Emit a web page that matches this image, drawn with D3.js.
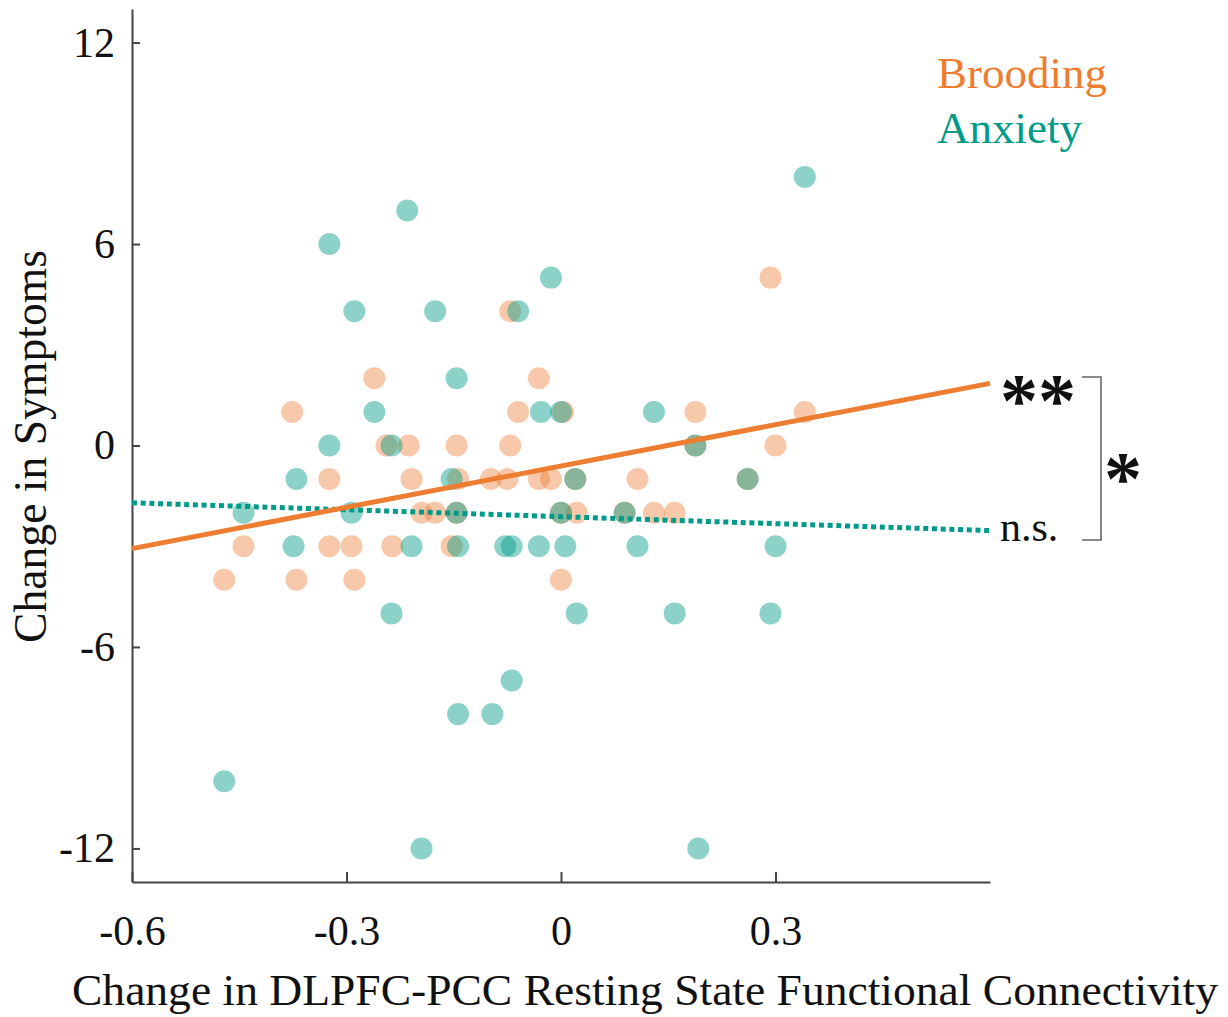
<!DOCTYPE html>
<html>
<head>
<meta charset="utf-8">
<script src="https://cdn.jsdelivr.net/npm/d3@7"></script>
<style>
  body { margin: 0; background: #fff; }
  svg { display: block; }
  text { font-family: "Liberation Serif", "DejaVu Serif", serif; }
</style>
</head>
<body>
<div id="chart"></div>
<script>
// change in DLPFC-PCC connectivity (x) vs change in symptoms (y)
const broodX = [0.293, -0.071, -0.261, -0.031, -0.376, -0.060, 0.003, 0.188, 0.341,
  -0.244, -0.213, -0.146, -0.071, 0.188, 0.300,
  -0.324, -0.209, -0.144, -0.098, -0.075, -0.031, -0.014, 0.020, 0.107, 0.261,
  -0.195, -0.176, -0.146, 0.000, 0.022, 0.089, 0.130, 0.159,
  -0.444, -0.324, -0.293, -0.236, -0.153,
  -0.471, -0.370, -0.289, 0.000];
const broodY = [5, 4, 2, 2, 1, 1, 1, 1, 1,
  0, 0, 0, 0, 0, 0,
  -1, -1, -1, -1, -1, -1, -1, -1, -1, -1,
  -2, -2, -2, -2, -2, -2, -2, -2,
  -3, -3, -3, -3, -3,
  -4, -4, -4, -4];

const anxX = [0.341, -0.215, -0.324, -0.014, -0.289, -0.176, -0.060, -0.146,
  -0.261, -0.028, 0.000, 0.130,
  -0.324, -0.237, 0.188,
  -0.370, -0.153, 0.020, 0.261,
  -0.444, -0.293, -0.146, 0.000, 0.089,
  -0.374, -0.209, -0.144, -0.078, -0.069, -0.031, 0.006, 0.107, 0.300,
  -0.237, 0.022, 0.159, 0.293,
  -0.069, -0.144, -0.096, -0.471, -0.195, 0.192];
const anxY = [8, 7, 6, 5, 4, 4, 4, 2,
  1, 1, 1, 1,
  0, 0, 0,
  -1, -1, -1, -1,
  -2, -2, -2, -2, -2,
  -3, -3, -3, -3, -3, -3, -3, -3, -3,
  -5, -5, -5, -5,
  -7, -8, -8, -10, -12, -12];

// fitted lines: [slope, intercept]
const broodFit = [4.1, -0.61];
const anxFit = [-0.69, -2.12];

const xTicks = [-0.6, -0.3, 0, 0.3];
const xTickLabels = ["-0.6", "-0.3", "0", "0.3"];
const yTicks = [-12, -6, 0, 6, 12];
const yTickLabels = ["-12", "-6", "0", "6", "12"];

const orange = "#ED7D31";
const teal = "#009B88";

const width = 1228;
const height = 1017;

const svg = d3.select("#chart")
  .append("svg")
  .attr("width", width)
  .attr("height", height);

const x = d3.scaleLinear().domain([-0.6, 0.6]).range([132, 990]);
const y = d3.scaleLinear().domain([-13, 13]).range([882, 9]);

// axes
const yAxis = d3.axisLeft(y)
  .tickValues(yTicks)
  .tickFormat((d, i) => yTickLabels[i])
  .tickSizeInner(-8)
  .tickSizeOuter(0)
  .tickPadding(17);

const xAxis = d3.axisBottom(x)
  .tickValues(xTicks)
  .tickFormat((d, i) => xTickLabels[i])
  .tickSizeInner(-10)
  .tickSizeOuter(0);

const gy = svg.append("g")
  .attr("transform", `translate(${x.range()[0]},0)`)
  .call(yAxis);
gy.selectAll("text")
  .attr("font-size", 42)
  .attr("font-family", "Liberation Serif")
  .attr("fill", "#111");

const gx = svg.append("g")
  .attr("transform", `translate(0,${y.range()[0]})`)
  .call(xAxis);
gx.selectAll("text")
  .attr("font-size", 42)
  .attr("font-family", "Liberation Serif")
  .attr("fill", "#111")
  .attr("y", 63)
  .attr("dy", 0);

svg.selectAll(".domain, .tick line")
  .attr("stroke", "#444")
  .attr("stroke-width", 2);

// axis titles
svg.append("text")
  .attr("x", 72)
  .attr("y", 1005)
  .attr("font-size", 44)
  .attr("fill", "#111")
  .attr("textLength", 1146)
  .attr("lengthAdjust", "spacingAndGlyphs")
  .text("Change in DLPFC-PCC Resting State Functional Connectivity");

svg.append("text")
  .attr("transform", "translate(46,643) rotate(-90)")
  .attr("font-size", 46)
  .attr("fill", "#111")
  .attr("textLength", 393)
  .attr("lengthAdjust", "spacingAndGlyphs")
  .text("Change in Symptoms");

// points
const brood = broodX.map((d, i) => ({ x: d, y: broodY[i] }));
const anx = anxX.map((d, i) => ({ x: d, y: anxY[i] }));

svg.append("g")
  .selectAll("circle")
  .data(brood)
  .enter()
  .append("circle")
  .attr("cx", (d) => x(d.x))
  .attr("cy", (d) => y(d.y))
  .attr("r", 11)
  .attr("fill", orange)
  .attr("fill-opacity", 0.42);

svg.append("g")
  .selectAll("circle")
  .data(anx)
  .enter()
  .append("circle")
  .attr("cx", (d) => x(d.x))
  .attr("cy", (d) => y(d.y))
  .attr("r", 11)
  .attr("fill", teal)
  .attr("fill-opacity", 0.45);

// fit lines
const fitLine = (fit) => x.domain().map((v) => [x(v), y(fit[0] * v + fit[1])]);

svg.append("path")
  .attr("d", d3.line()(fitLine(anxFit)))
  .attr("stroke", teal)
  .attr("stroke-width", 5)
  .attr("stroke-dasharray", "5 3.7")
  .attr("fill", "none");

svg.append("path")
  .attr("d", d3.line()(fitLine(broodFit)))
  .attr("stroke", orange)
  .attr("stroke-width", 5)
  .attr("fill", "none");

// legend
svg.append("text")
  .attr("x", 937)
  .attr("y", 88)
  .attr("font-size", 45)
  .attr("fill", orange)
  .text("Brooding");

svg.append("text")
  .attr("x", 937)
  .attr("y", 143)
  .attr("font-size", 45)
  .attr("fill", teal)
  .text("Anxiety");

// significance labels
svg.append("text")
  .attr("x", 1000)
  .attr("y", 426)
  .attr("font-size", 76)
  .attr("font-weight", "bold")
  .attr("fill", "#111")
  .text("**");

svg.append("text")
  .attr("x", 1104)
  .attr("y", 504)
  .attr("font-size", 76)
  .attr("font-weight", "bold")
  .attr("fill", "#111")
  .text("*");

svg.append("text")
  .attr("x", 1000)
  .attr("y", 541)
  .attr("font-size", 42)
  .attr("fill", "#111")
  .text("n.s.");

svg.append("path")
  .attr("d", "M1082,377H1101V540H1082")
  .attr("stroke", "#666")
  .attr("stroke-width", 1.6)
  .attr("fill", "none");
</script>
</body>
</html>
